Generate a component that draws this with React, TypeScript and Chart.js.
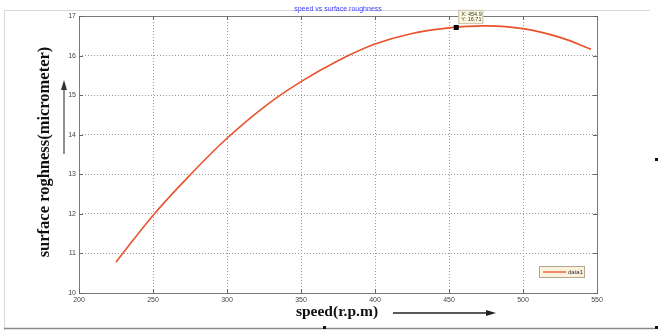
import React, { useEffect, useRef } from "react";
import { Chart, registerables } from "chart.js";

Chart.register(...registerables);

const speedValues = [225, 250, 275, 300, 325, 350, 375, 400, 425, 450, 475, 500, 525, 546];
const roughnessValues = [10.78, 11.96, 12.98, 13.91, 14.7, 15.34, 15.87, 16.29, 16.56, 16.7, 16.75, 16.68, 16.46, 16.16];
const xTicks = [200, 250, 300, 350, 400, 450, 500, 550];
const yTicks = [10, 11, 12, 13, 14, 15, 16, 17];
const tipPoint = { x: 454.9, y: 16.71 };
const seriesName = "data1";
const chartTitle = "speed vs surface roughness";
const xTitle = "speed(r.p.m)";
const yTitle = "surface roghness(micrometer)";

const decorPlugin = {
  id: "decor",
  afterDraw(chart: any) {
    const { ctx, chartArea } = chart;
    const { left, right, top, bottom } = chartArea;
    ctx.save();
    // outer frame
    ctx.strokeStyle = "#d8d8d8";
    ctx.lineWidth = 1;
    ctx.beginPath();
    ctx.moveTo(4.5, 330);
    ctx.lineTo(4.5, 10.5);
    ctx.lineTo(650, 10.5);
    ctx.stroke();
    ctx.strokeStyle = "#8a8a8a";
    ctx.lineWidth = 1.5;
    ctx.beginPath();
    ctx.moveTo(4, 328.5);
    ctx.lineTo(655, 328.5);
    ctx.stroke();
    ctx.fillStyle = "#111";
    ctx.fillRect(655, 158, 3, 3);
    ctx.fillRect(655, 326, 3, 3);
    ctx.fillRect(323, 326, 3, 3);

    // plot box
    ctx.strokeStyle = "#7a7a7a";
    ctx.lineWidth = 1;
    ctx.strokeRect(Math.round(left) + 0.5, Math.round(top) + 0.5, Math.round(right - left), Math.round(bottom - top));

    // inner tick marks
    const xs = chart.scales.x;
    const ys = chart.scales.y;
    ctx.strokeStyle = "#666";
    ctx.beginPath();
    xTicks.forEach((v) => {
      const px = Math.round(xs.getPixelForValue(v)) + 0.5;
      ctx.moveTo(px, bottom);
      ctx.lineTo(px, bottom - 4);
      ctx.moveTo(px, top);
      ctx.lineTo(px, top + 4);
    });
    yTicks.forEach((v) => {
      const py = Math.round(ys.getPixelForValue(v)) + 0.5;
      ctx.moveTo(left, py);
      ctx.lineTo(left + 4, py);
      ctx.moveTo(right, py);
      ctx.lineTo(right - 4, py);
    });
    ctx.stroke();

    // title
    ctx.fillStyle = "#3b3bff";
    ctx.font = "7px 'Liberation Sans', Arial, sans-serif";
    ctx.textAlign = "center";
    ctx.textBaseline = "middle";
    ctx.fillText(chartTitle, (left + right) / 2, 9);

    // axis titles
    ctx.fillStyle = "#111";
    ctx.font = "bold 15.5px 'Liberation Serif', 'Times New Roman', serif";
    ctx.fillText(xTitle, 337, 312);
    ctx.font = "bold 16.5px 'Liberation Serif', 'Times New Roman', serif";
    ctx.save();
    ctx.translate(45, 152);
    ctx.rotate(-Math.PI / 2);
    ctx.fillText(yTitle, 0, 0);
    ctx.restore();

    // arrows
    ctx.strokeStyle = "#222";
    ctx.fillStyle = "#222";
    ctx.lineWidth = 1.3;
    ctx.beginPath();
    ctx.moveTo(393, 313);
    ctx.lineTo(488, 313);
    ctx.stroke();
    ctx.beginPath();
    ctx.moveTo(496, 313);
    ctx.lineTo(486, 310);
    ctx.lineTo(486, 316);
    ctx.closePath();
    ctx.fill();
    ctx.strokeStyle = "#555";
    ctx.fillStyle = "#333";
    ctx.beginPath();
    ctx.moveTo(64, 154);
    ctx.lineTo(64, 88);
    ctx.stroke();
    ctx.beginPath();
    ctx.moveTo(64, 80);
    ctx.lineTo(61, 90);
    ctx.lineTo(67, 90);
    ctx.closePath();
    ctx.fill();

    // legend
    ctx.fillStyle = "#fbf1dc";
    ctx.fillRect(539, 266, 45, 11);
    ctx.strokeStyle = "#b0a890";
    ctx.lineWidth = 1;
    ctx.strokeRect(539.5, 266.5, 45, 11);
    ctx.strokeStyle = "#e8532e";
    ctx.lineWidth = 1.3;
    ctx.beginPath();
    ctx.moveTo(543, 272);
    ctx.lineTo(566, 272);
    ctx.stroke();
    ctx.fillStyle = "#333";
    ctx.font = "6px 'Liberation Sans', Arial, sans-serif";
    ctx.textAlign = "left";
    ctx.fillText(seriesName, 568, 272);

    // datatip
    const tx = xs.getPixelForValue(tipPoint.x);
    const ty = ys.getPixelForValue(tipPoint.y);
    ctx.fillStyle = "#fdfbe0";
    ctx.fillRect(tx + 2, 10, 24, 13);
    ctx.strokeStyle = "#cfcab0";
    ctx.strokeRect(tx + 2.5, 10.5, 24, 13);
    ctx.fillStyle = "#333";
    ctx.font = "5.5px 'Liberation Sans', Arial, sans-serif";
    ctx.fillText("X: " + tipPoint.x, tx + 5, 14);
    ctx.fillText("Y: " + tipPoint.y, tx + 5, 19.5);
    ctx.fillStyle = "#000";
    ctx.fillRect(tx - 2.5, ty - 2.5, 5, 5);
    ctx.restore();
  },
};

export default function App() {
  const ref = useRef<HTMLCanvasElement | null>(null);
  useEffect(() => {
    if (!ref.current) return;
    const chart = new Chart(ref.current, {
      type: "line",
      data: {
        datasets: [
          {
            label: seriesName,
            data: speedValues.map((x, i) => ({ x, y: roughnessValues[i] })),
            borderColor: "#e8532e",
            borderWidth: 1.6,
            pointRadius: 0,
            tension: 0.4,
            fill: false,
          },
        ],
      },
      plugins: [decorPlugin],
      options: {
        animation: false,
        responsive: false,
        maintainAspectRatio: false,
        layout: { padding: { left: 0, top: 16, right: 62, bottom: 0 } },
        plugins: {
          legend: { display: false },
          title: { display: false },
          tooltip: { enabled: false },
        },
        scales: {
          x: {
            type: "linear",
            min: 200,
            max: 550,
            afterFit: (s: any) => {
              s.height = 38;
            },
            afterBuildTicks: (s: any) => {
              s.ticks = xTicks.map((v) => ({ value: v }));
            },
            grid: {
              color: "#9a9a9a",
              lineWidth: 1,
              drawTicks: false,
            },
            border: { display: false, dash: [1, 2] },
            ticks: {
              padding: 3,
              color: "#444",
              font: { size: 7, family: "'Liberation Sans', Arial, sans-serif" },
              maxRotation: 0,
              autoSkip: false,
            },
          },
          y: {
            type: "linear",
            min: 10,
            max: 17,
            afterFit: (s: any) => {
              s.width = 79;
            },
            afterBuildTicks: (s: any) => {
              s.ticks = yTicks.map((v) => ({ value: v }));
            },
            grid: {
              color: "#9a9a9a",
              lineWidth: 1,
              drawTicks: false,
            },
            border: { display: false, dash: [1, 2] },
            ticks: {
              padding: 3,
              color: "#444",
              font: { size: 7, family: "'Liberation Sans', Arial, sans-serif" },
              autoSkip: false,
            },
          },
        },
      },
    } as any);
    return () => chart.destroy();
  }, []);
  return (
    <div style={{ position: "absolute", left: 0, top: 0, width: 659, height: 331, background: "#fff" }}>
      <canvas ref={ref} width={659} height={331} style={{ display: "block" }} />
    </div>
  );
}
